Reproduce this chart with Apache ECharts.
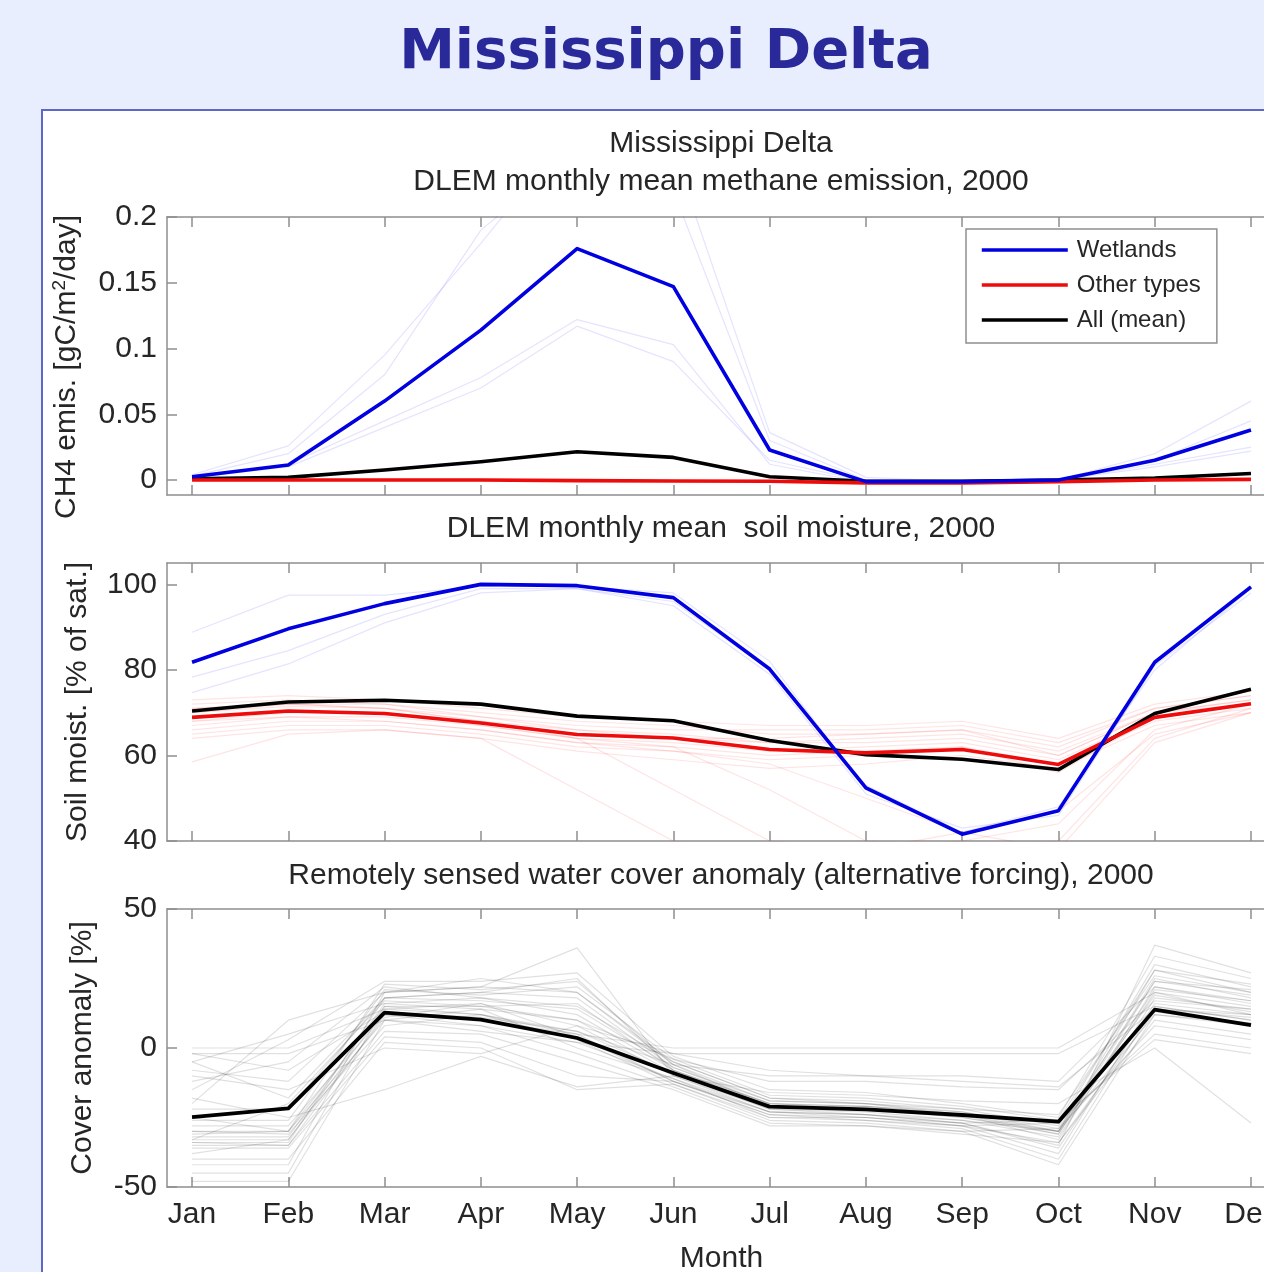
<!DOCTYPE html>
<html>
<head>
<meta charset="utf-8">
<title>Mississippi Delta</title>
<script src="https://cdn.jsdelivr.net/npm/echarts@6/dist/echarts.min.js"></script>
<style>
  html, body { margin: 0; padding: 0; background: #e8eefd; overflow: hidden; width: 1264px; height: 1272px; }
  #chart { width: 1320px; height: 1272px; }
</style>
</head>
<body>
<div id="chart"></div>
<script>
// ---------- categories & ticks ----------
const months = ['Jan', 'Feb', 'Mar', 'Apr', 'May', 'Jun', 'Jul', 'Aug', 'Sep', 'Oct', 'Nov', 'Dec'];
const monthTicks = [0, 1, 2, 3, 4, 5, 6, 7, 8, 9, 10, 11];
const ch4Ticks = [0, 0.05, 0.1, 0.15, 0.2];
const soilTicks = [40, 60, 80, 100];
const coverTicks = [-50, 0, 50];

// ---------- CH4 emission [gC/m2/day] ----------
const ch4Wetlands = [0.0025, 0.0114, 0.060, 0.114, 0.176, 0.147, 0.0228, -0.0012, -0.0012, 0.0, 0.015, 0.038];
const ch4Other    = [0.0, 0.0, 0.0, 0.0, -0.0005, -0.0008, -0.001, -0.0022, -0.0022, -0.0012, 0.0, 0.0005];
const ch4All      = [0.001, 0.002, 0.0076, 0.0139, 0.0215, 0.0172, 0.0025, -0.001, -0.001, 0.0, 0.0015, 0.005];
// individual wetland cells
const ch4WetCell1 = [0.004, 0.026, 0.095, 0.180, 0.270, 0.250, 0.036, 0.002, -0.001, 0.0, 0.020, 0.060];
const ch4WetCell2 = [0.003, 0.020, 0.080, 0.190, 0.250, 0.220, 0.030, 0.000, -0.001, 0.0, 0.015, 0.045];
const ch4WetCell3 = [0.002, 0.012, 0.045, 0.078, 0.122, 0.103, 0.012, -0.002, -0.002, 0.0, 0.012, 0.025];
const ch4WetCell4 = [0.002, 0.010, 0.040, 0.070, 0.117, 0.090, 0.015, -0.001, -0.002, 0.0, 0.010, 0.022];

// ---------- soil moisture [% of sat.] ----------
const soilWetlands = [81.8, 89.6, 95.5, 100.0, 99.7, 96.9, 80.2, 52.4, 41.6, 47.1, 81.8, 99.4];
const soilOther    = [68.9, 70.4, 69.8, 67.6, 64.9, 64.1, 61.4, 60.6, 61.4, 57.9, 68.9, 72.1];
const soilAll      = [70.4, 72.5, 72.9, 72.0, 69.2, 68.1, 63.5, 60.2, 59.1, 56.7, 69.8, 75.5];
const soilWetCell1 = [88.8, 97.5, 97.5, 99.5, 99.5, 98.0, 82.0, 52.0, 42.0, 47.0, 82.0, 99.0];
const soilWetCell2 = [78.3, 84.5, 93.0, 99.0, 99.0, 96.0, 80.0, 53.0, 42.0, 48.0, 80.0, 99.0];
const soilWetCell3 = [74.7, 81.4, 91.0, 98.0, 99.0, 95.0, 79.0, 51.0, 43.0, 46.0, 81.0, 98.0];
const soilOtherCell1  = [72, 73, 72, 70, 68, 67, 65, 65, 66, 62, 71, 74];
const soilOtherCell2  = [70, 71.5, 71, 69, 66, 65, 63, 63, 64, 60, 70, 73];
const soilOtherCell3  = [67, 69, 69, 67, 64, 63, 61, 62, 63, 59, 69, 72];
const soilOtherCell4  = [65, 67, 67, 65, 62, 61, 59, 60, 62, 58, 68, 71];
const soilOtherCell5  = [64, 66, 66, 64, 61, 59, 57, 58, 60, 57, 67, 70];
const soilOtherCell6  = [58.5, 65, 66, 64, 52, 40, 36, 38, 42, 47, 65, 70];
const soilOtherCell7  = [69, 70, 70, 67, 64, 52, 40, 38, 40, 44, 66, 72];
const soilOtherCell8  = [71, 72, 71, 68, 64, 62, 52, 40, 39, 40, 64, 71];
const soilOtherCell9  = [68, 69, 68, 66, 63, 61, 58, 50, 42, 38, 63, 70];
const soilOtherCell10 = [73, 74, 73, 71, 69, 68, 67, 67, 68, 64, 72, 75];
const soilOtherCell11 = [66, 68, 68, 66, 63, 62, 60, 61, 62, 56, 69, 72];
const soilOtherCell12 = [70, 72, 71, 68, 65, 64, 63, 64, 65, 61, 70, 73];
const soilOtherCell13 = [71, 72, 72, 69, 67, 66, 66, 66, 67, 63, 71, 74];
const soilOtherCell14 = [68, 70, 70, 68, 66, 64, 64, 65, 66, 60, 70, 72];

// ---------- water cover anomaly [%] ----------
const coverMean = [-24.9, -21.7, 12.7, 10.2, 3.6, -9.0, -21.1, -22.1, -24.1, -26.5, 13.8, 8.2];
const coverCell1  = [0, 0, 14, 12, 5, 0, 0, 0, 0, 0, 20, 12];
const coverCell2  = [-2, -2, 10, 8, 2, -2, -2, -2, -2, -2, 15, 10];
const coverCell3  = [-5, -18, 18, 20, 25, -8, -20, -22, -25, -30, 28, 20];
const coverCell4  = [-8, -12, 20, 22, 36, -10, -22, -24, -27, -35, 37, 27];
const coverCell5  = [-12, -5, 22, 18, 15, -5, -18, -19, -22, -28, 30, 22];
const coverCell6  = [-15, 3, 24, 24, 27, -3, -15, -16, -20, -25, 33, 25];
const coverCell7  = [-20, 10, 20, 25, 20, -6, -19, -20, -23, -30, 25, 18];
const coverCell8  = [-25, -30, 15, 15, 10, -9, -22, -23, -26, -32, 20, 15];
const coverCell9  = [-28, -28, 12, 10, 5, -12, -24, -25, -28, -38, 18, 14];
const coverCell10 = [-30, -30, 10, 14, 0, -11, -25, -26, -29, -40, 15, 10];
const coverCell11 = [-30, -31, 8, 12, 3, -13, -26, -27, -30, -42, 12, 8];
const coverCell12 = [-32, -32, 16, 18, 12, -8, -21, -22, -24, -33, 22, 16];
const coverCell13 = [-33, -33, 14, 16, 8, -10, -23, -24, -27, -36, 16, 12];
const coverCell14 = [-34, -34, 18, 20, 18, -7, -20, -21, -24, -31, 24, 19];
const coverCell15 = [-35, -35, 12, 8, -2, -14, -27, -28, -31, -34, 10, 5];
const coverCell16 = [-34, -35, 6, 5, -5, -15, -28, -28, -30, -29, 8, 3];
const coverCell17 = [-36, -36, 4, 2, -10, -12, -24, -26, -28, -27, 5, 0];
const coverCell18 = [-40, -40, 2, 0, -15, -13, -25, -25, -27, -26, 3, -2];
const coverCell19 = [-42, -42, 20, 22, 20, -5, -18, -20, -22, -24, 26, 20];
const coverCell20 = [-45, -45, 15, 12, 6, -9, -21, -21, -24, -27, 14, 12];
const coverCell21 = [-48, -48, 10, 6, 2, -11, -23, -24, -26, -30, 12, 9];
const coverCell22 = [-5, 5, 16, 14, 10, -4, -12, -12, -14, -15, 17, 14];
const coverCell23 = [-2, -8, 13, 11, 6, -6, -10, -10, -10, -12, 22, 17];
const coverCell24 = [-10, -15, 0, -2, 8, -2, -8, -10, -12, -14, 14, 11];
const coverCell25 = [-18, -25, -15, -3, -14, -10, -16, -17, -19, -20, 0, -27];
const coverCell26 = [-22, -22, 18, 17, 14, -7, -19, -20, -24, -30, 19, 13];
const coverCell27 = [-26, -26, 21, 19, 22, -4, -17, -18, -21, -26, 28, 23];
const coverCell28 = [-31, -30, 23, 21, 24, -6, -21, -22, -25, -31, 21, 17];
const coverCell29 = [-33, -20, 17, 15, 16, -8, -20, -21, -23, -29, 24, 21];
const coverCell30 = [-38, -33, 11, 16, 4, -12, -23, -25, -28, -34, 13, 9];

// ---------- styling ----------
const FONT = '"Liberation Sans", Arial, Helvetica, sans-serif';
const TEXT = '#262626';
const AXIS = '#8f8f8f';
const BLUE = '#0000e0';
const RED = '#ee0b0b';
const BLACK = '#000000';
const FAINT_BLUE = 'rgba(30,30,255,0.12)';
const FAINT_RED = 'rgba(255,30,30,0.12)';
const FAINT_GRAY = 'rgba(0,0,0,0.12)';
const FS = 30;

const gridTops = [217, 563, 909];
const grids = gridTops.map(t => ({
  left: 167, top: t, width: 1109, height: 278,
  containLabel: false, outerBoundsMode: 'none'
}));

function xAxisFor(gi, position, withLabels) {
  return {
    type: 'value', gridIndex: gi, position: position,
    min: -0.26, max: 11.26,
    axisLine: { show: true, onZero: false, lineStyle: { color: AXIS, width: 1.5 } },
    axisTick: { show: true, inside: true, length: 10, customValues: monthTicks, lineStyle: { color: AXIS, width: 1.5 } },
    axisLabel: withLabels ? {
      show: true, customValues: monthTicks, margin: 13,
      formatter: v => months[Math.round(v)],
      fontSize: FS, color: TEXT, fontFamily: FONT
    } : { show: false },
    splitLine: { show: false },
    name: withLabels ? 'Month' : '',
    nameLocation: 'middle', nameGap: 57,
    nameTextStyle: { fontSize: FS, color: TEXT, fontFamily: FONT }
  };
}

function yAxisFor(gi, min, max, ticks, name, gap, extra) {
  return {
    type: 'value', gridIndex: gi, min: min, max: max,
    axisLine: { show: true, onZero: false, lineStyle: { color: AXIS, width: 1.5 } },
    axisTick: { show: true, inside: true, length: 10, customValues: ticks, lineStyle: { color: AXIS, width: 1.5 } },
    axisLabel: { show: true, customValues: ticks, margin: 10, fontSize: FS, color: TEXT, fontFamily: FONT },
    splitLine: { show: false },
    name: name, nameLocation: 'middle', nameRotate: 90, nameGap: gap,
    nameTextStyle: Object.assign({ fontSize: FS, color: TEXT, fontFamily: FONT }, extra || {})
  };
}

function line(name, values, gi, color, width, z) {
  return {
    type: 'line', name: name, xAxisIndex: gi, yAxisIndex: gi,
    data: values.map((v, i) => [monthTicks[i], v]),
    symbol: 'none', clip: true, silent: true, z: z,
    lineStyle: { color: color, width: width, join: 'round' },
    itemStyle: { color: color },
    emphasis: { disabled: true }
  };
}

const series = [];
// panel 1 : methane emission
[ch4WetCell1, ch4WetCell2, ch4WetCell3, ch4WetCell4].forEach(d => series.push(line('Wetland cell', d, 0, FAINT_BLUE, 1.2, 2)));
series.push(line('All (mean)', ch4All, 0, BLACK, 3.6, 3));
series.push(line('Other types', ch4Other, 0, RED, 3.6, 4));
series.push(line('Wetlands', ch4Wetlands, 0, BLUE, 3.6, 5));

// panel 2 : soil moisture
[soilOtherCell1, soilOtherCell2, soilOtherCell3, soilOtherCell4, soilOtherCell5, soilOtherCell6, soilOtherCell7,
 soilOtherCell8, soilOtherCell9, soilOtherCell10, soilOtherCell11, soilOtherCell12, soilOtherCell13, soilOtherCell14]
  .forEach(d => series.push(line('Other cell', d, 1, FAINT_RED, 1.2, 2)));
[soilWetCell1, soilWetCell2, soilWetCell3].forEach(d => series.push(line('Wetland cell', d, 1, FAINT_BLUE, 1.2, 2)));
series.push(line('All (mean)', soilAll, 1, BLACK, 3.6, 3));
series.push(line('Other types', soilOther, 1, RED, 3.6, 4));
series.push(line('Wetlands', soilWetlands, 1, BLUE, 3.6, 5));

// panel 3 : water cover anomaly
[coverCell1, coverCell2, coverCell3, coverCell4, coverCell5, coverCell6, coverCell7, coverCell8, coverCell9, coverCell10,
 coverCell11, coverCell12, coverCell13, coverCell14, coverCell15, coverCell16, coverCell17, coverCell18, coverCell19, coverCell20,
 coverCell21, coverCell22, coverCell23, coverCell24, coverCell25, coverCell26, coverCell27, coverCell28, coverCell29, coverCell30]
  .forEach(d => series.push(line('Cover cell', d, 2, FAINT_GRAY, 1.2, 2)));
series.push(line('Cover mean', coverMean, 2, BLACK, 3.8, 5));

function caption(text, y) {
  return {
    type: 'text', x: 721, y: y, silent: true, z: 10,
    style: { text: text, fontSize: FS, fontFamily: FONT, fill: TEXT, align: 'center', verticalAlign: 'middle' }
  };
}

const chart = echarts.init(document.getElementById('chart'), null, { renderer: 'canvas' });
chart.setOption({
  animation: false,
  backgroundColor: '#e8eefd',
  graphic: [
    { type: 'rect', z: -10, silent: true,
      shape: { x: 42, y: 110, width: 1400, height: 1400 },
      style: { fill: '#ffffff', stroke: '#5d68c6', lineWidth: 2 } },
    { type: 'text', x: 666, y: 53, silent: true, z: 10,
      style: { text: 'Mississippi Delta', fontSize: 56, fontWeight: 'bold', fontFamily: '"DejaVu Sans", Verdana, Tahoma, sans-serif',
               fill: '#29299a', align: 'center', verticalAlign: 'middle' } },
    caption('Mississippi Delta', 144),
    caption('DLEM monthly mean methane emission, 2000', 182),
    caption('DLEM monthly mean  soil moisture, 2000', 529),
    caption('Remotely sensed water cover anomaly (alternative forcing), 2000', 876)
  ],
  grid: grids,
  xAxis: [
    xAxisFor(0, 'bottom', false), xAxisFor(1, 'bottom', false), xAxisFor(2, 'bottom', true),
    xAxisFor(0, 'top', false), xAxisFor(1, 'top', false), xAxisFor(2, 'top', false)
  ],
  yAxis: [
    yAxisFor(0, -0.0114, 0.2, ch4Ticks, 'CH4 emis. [gC/m{sup|2}/day]', 84, {
      padding: [0, 22, 0, 0],
      rich: { sup: { fontSize: 19, fontFamily: FONT, color: TEXT, verticalAlign: 'top', padding: [0, 0, 14, 0] } }
    }),
    yAxisFor(1, 40, 105, soilTicks, 'Soil moist. [% of sat.]', 74),
    yAxisFor(2, -50, 50, coverTicks, 'Cover anomaly [%]', 69)
  ],
  legend: {
    orient: 'vertical', left: 966, top: 229,
    data: ['Wetlands', 'Other types', 'All (mean)'],
    itemWidth: 86, itemHeight: 24, itemGap: 11,
    padding: [9, 16, 11, 14],
    backgroundColor: '#ffffff', borderColor: AXIS, borderWidth: 1.5, borderRadius: 0,
    selectedMode: false,
    itemStyle: { opacity: 0 },
    lineStyle: { width: 3.6 },
    textStyle: { fontSize: 24, color: TEXT, fontFamily: FONT, padding: [0, 0, 0, 4] }
  },
  series: series
});
</script>
</body>
</html>
